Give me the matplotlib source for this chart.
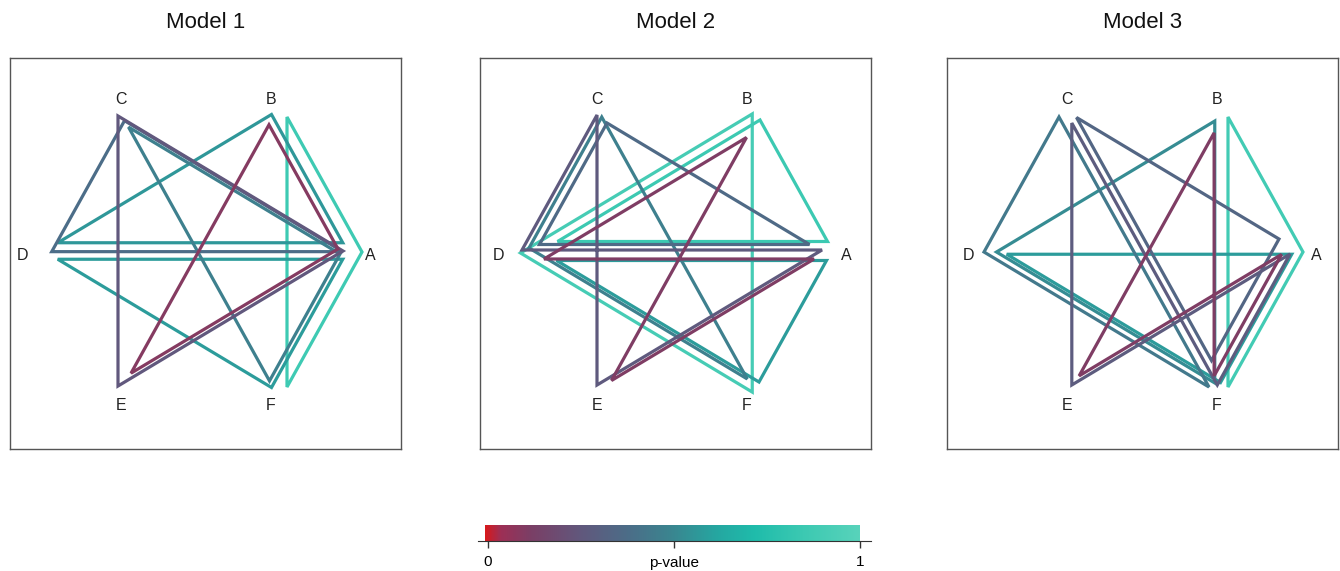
import numpy as np
import matplotlib.pyplot as plt
from matplotlib.colors import LinearSegmentedColormap
from matplotlib.patches import Polygon

plt.rcParams['font.family'] = ['Liberation Sans', 'DejaVu Sans']

nodes = ["A", "B", "C", "D", "E", "F"]
titles = ["Model 1", "Model 2", "Model 3"]

# hyperedges (node order = drawing order) and their p-values
edges_m1 = [["A", "B", "F"], ["A", "B", "D"], ["A", "D", "F"], ["A", "C", "F"],
            ["A", "C", "D"], ["A", "C", "E"], ["A", "B", "E"]]
pvals_m1 = [0.86, 0.56, 0.58, 0.47, 0.38, 0.26, 0.10]

edges_m2 = [["B", "D", "F"], ["A", "B", "D"], ["A", "D", "F"], ["C", "F", "D"],
            ["C", "D", "A"], ["C", "E", "A", "D"], ["B", "E", "A", "D"]]
pvals_m2 = [0.90, 0.85, 0.58, 0.47, 0.36, 0.27, 0.11]

edges_m3 = [["A", "B", "F"], ["A", "D", "F"], ["B", "D", "F"], ["C", "D", "F"],
            ["C", "A", "F"], ["C", "E", "A", "F"], ["B", "E", "A", "F"]]
pvals_m3 = [0.88, 0.58, 0.52, 0.44, 0.34, 0.28, 0.11]

edges = [edges_m1, edges_m2, edges_m3]
pvals = [pvals_m1, pvals_m2, pvals_m3]

# small nudges so overlapping polygons stay visible: (shrink, dx px, dy px)
nudge = [
    [(1.0, 16, 1), (0.95, 3, -6), (0.95, 3, 6), (0.94, 0, 3),
     (0.97, 2, 2), (1.0, -3, 0), (0.92, 0, -2)],
    [(1.03, 3, 2), (0.9, 18, -5), (0.9, 17, 5), (0.97, 4, -3),
     (0.9, 5, -2), (1.0, 0, -1), (0.9, 7, 8)],
    [(1.0, 11, 1), (0.95, 6, 1), (0.97, 0, 1), (1.0, -8, 1),
     (0.9, -3, -12), (0.97, 2, 2), (0.9, -1, 0)],
]

cmap = LinearSegmentedColormap.from_list("pv", [
    (0.0, "#d7191c"), (0.04, "#9e2f55"), (0.12, "#7b3f66"), (0.25, "#62577c"),
    (0.38, "#4c6d88"), (0.5, "#3a8690"), (0.62, "#25a7a1"), (0.72, "#1fbcab"),
    (0.85, "#3cc9b2"), (1.0, "#58d3bb")])

W, H = 1340, 571
PX_X, PX_Y = 150.0, 155.9
ang = np.deg2rad([0, 60, 120, 180, 240, 300])
pos = {n: np.array([np.cos(a), np.sin(a)]) for n, a in zip(nodes, ang)}
lab = {"A": (1.16, -0.03), "B": (0.5, 0.97), "C": (-0.5, 0.97),
       "D": (-1.16, -0.03), "E": (-0.5, -0.99), "F": (0.5, -0.99)}

fig = plt.figure(figsize=(W / 100, H / 100), dpi=100)

box_left = [10, 480, 947]
centre = [186, 192, 195]
box_top, box_size = 58, 391

for k in range(3):
    ax = fig.add_axes([box_left[k] / W, (H - box_top - box_size) / H, box_size / W, box_size / H])
    c = centre[k]
    ax.set_xlim(-c / PX_X, (box_size - c) / PX_X)
    ax.set_ylim(-(box_size - 193) / PX_Y, 193 / PX_Y)
    order = np.argsort(pvals[k])[::-1]
    for i in order:
        pts = np.array([pos[n] for n in edges[k][i]])
        s, dx, dy = nudge[k][i]
        cen = pts.mean(axis=0)
        pts = cen + s * (pts - cen) + np.array([dx / PX_X, -dy / PX_Y])
        ax.add_patch(Polygon(pts, closed=True, fill=False, ec=cmap(pvals[k][i]),
                             lw=2.3, joinstyle='miter'))
    for n in nodes:
        ax.text(lab[n][0], lab[n][1], n, ha='center', va='center', fontsize=11.5, color='#222222')
    ax.set_xticks([])
    ax.set_yticks([])
    for sp in ax.spines.values():
        sp.set_color('#555555')
        sp.set_linewidth(1.0)
    fig.text((box_left[k] + box_size / 2) / W, 1 - 22 / H, titles[k],
             ha='center', va='center', fontsize=16, color='#111111')

# colour bar
cax = fig.add_axes([478 / W, (H - 541) / H, 393 / W, 16 / H])
grad = np.linspace(0, 1, 512).reshape(1, -1)
cax.imshow(grad, cmap=cmap, aspect='auto', extent=(-0.008, 1.0, 0, 1))
cax.set_xlim(-0.0269, 1.0296)
cax.set_ylim(0, 1)
cax.set_yticks([])
cax.set_xticks([0, 0.5, 1])
cax.set_xticklabels(["0", "", "1"], fontsize=11)
cax.tick_params(axis='x', length=5, width=1, color='#333333', pad=5)
for side in ['top', 'left', 'right']:
    cax.spines[side].set_visible(False)
cax.spines['bottom'].set_color('#333333')
cax.text(0.5, -0.95, "p-value", ha='center', va='top', fontsize=11,
         transform=cax.get_xaxis_transform())

fig.savefig("out.png", dpi=100)
